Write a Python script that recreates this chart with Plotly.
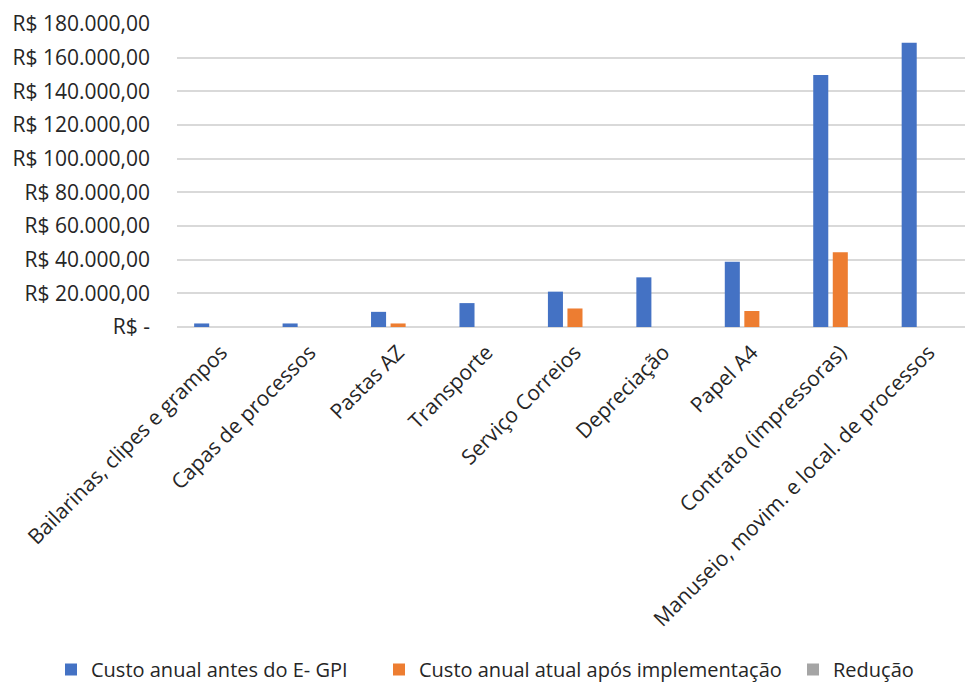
import plotly.graph_objects as go

categories = [
    "Bailarinas, clipes e grampos",
    "Capas de processos",
    "Pastas AZ",
    "Transporte",
    "Serviço Correios",
    "Depreciação",
    "Papel A4",
    "Contrato (impressoras)",
    "Manuseio, movim. e local. de processos",
]
custo_antes = [2100, 2100, 9000, 14200, 21000, 29500, 38700, 149700, 168900]
custo_apos = [0, 0, 2100, 0, 11000, 0, 9500, 44400, 0]
reducao = [0, 0, 0, 0, 0, 0, 0, 0, 0]

series_names = [
    "Custo anual antes do E- GPI",
    "Custo anual atual após implementação",
    "Redução",
]
series_colors = ["#4472C4", "#ED7D31", "#A5A5A5"]
legend_ids = ["legend", "legend2", "legend3"]
legend_x = [51 / 965, 379 / 965, 793 / 965]

y_tickvals = [0, 20000, 40000, 60000, 80000, 100000, 120000, 140000, 160000, 180000]
y_ticktext = [
    "R$ -", "R$ 20.000,00", "R$ 40.000,00", "R$ 60.000,00", "R$ 80.000,00",
    "R$ 100.000,00", "R$ 120.000,00", "R$ 140.000,00", "R$ 160.000,00", "R$ 180.000,00",
]

FONT = "Open Sans"
TICK_SIZE = 21
LEG_SIZE = 20

fig = go.Figure()
for name, vals, col, lid in zip(series_names, [custo_antes, custo_apos, reducao], series_colors, legend_ids):
    fig.add_trace(go.Bar(
        x=categories, y=vals, name=name, legend=lid,
        marker=dict(color=col, line=dict(width=0)),
    ))

legend_common = dict(
    orientation="h", xref="container", yref="container",
    xanchor="left", y=0.0, yanchor="bottom",
    font=dict(family=FONT, size=LEG_SIZE, color="#262626"),
    itemsizing="constant", bgcolor="rgba(0,0,0,0)",
)

fig.update_layout(
    width=965, height=689,
    margin=dict(l=177, r=0, t=24, b=362, autoexpand=False),
    paper_bgcolor="white", plot_bgcolor="white",
    barmode="group", bargap=0.337, bargroupgap=0.23,
    font=dict(family=FONT, size=LEG_SIZE, color="#262626"),
    showlegend=True,
    legend=dict(x=legend_x[0], **legend_common),
    legend2=dict(x=legend_x[1], **legend_common),
    legend3=dict(x=legend_x[2], **legend_common),
)
fig.update_xaxes(
    type="category", range=[-0.5, 8.41], tickangle=-45, automargin=False,
    showgrid=False, showline=False, ticks="", ticklabelstandoff=8,
    tickfont=dict(family=FONT, size=TICK_SIZE, color="#262626"),
)
fig.update_yaxes(
    range=[0, 180000], tickvals=y_tickvals, ticktext=y_ticktext, automargin=False,
    showgrid=True, gridcolor="#D9D9D9", gridwidth=1.5,
    zeroline=True, zerolinecolor="#D9D9D9", zerolinewidth=1.5,
    showline=False, ticks="", ticklabelstandoff=26,
    tickfont=dict(family=FONT, size=TICK_SIZE, color="#262626"),
)

fig.write_html("out.html")
